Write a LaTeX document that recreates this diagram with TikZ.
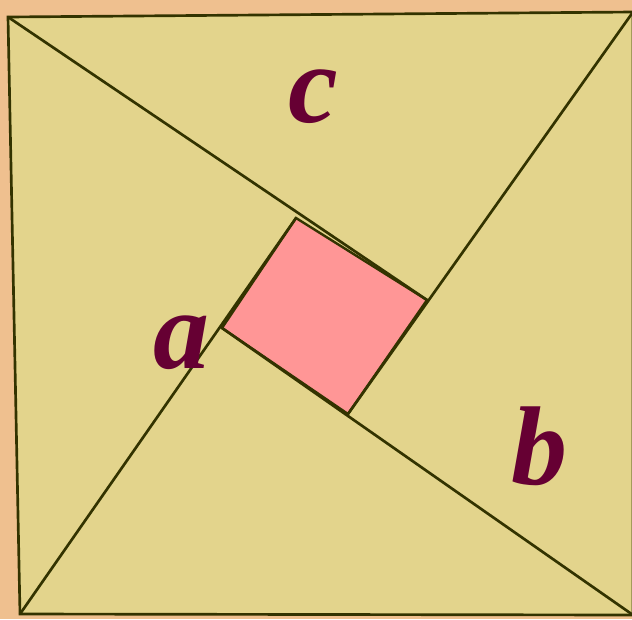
\documentclass[tikz,border=0pt]{standalone}
\usepackage{fontspec}
\setmainfont{Liberation Serif}
\usetikzlibrary{positioning}
\definecolor{backtan}{HTML}{EFC08F}
\definecolor{tilesand}{HTML}{E3D48C}
\definecolor{holepink}{HTML}{FF9696}
\definecolor{edgeolive}{HTML}{333300}
\definecolor{labelwine}{HTML}{660033}
\tikzset{
  tile/.style={fill=tilesand, draw=edgeolive, line width=2pt, line join=miter},
  hole/.style={fill=holepink, draw=edgeolive, line width=1.8pt},
  cut/.style={draw=edgeolive, line width=2pt},
  sidelabel/.style={font=\fontsize{84}{84}\selectfont\bfseries\itshape, text=labelwine, inner sep=0pt},
}
\begin{document}
\begin{tikzpicture}[x=0.75pt,y=-0.75pt]
  \fill[backtan] (0,0) rectangle (632,619);
  \useasboundingbox (0,0) rectangle (632,619);
  % corners of the big square and of the hole
  \coordinate (tl) at (8,17);
  \coordinate (tr) at (633,12);
  \coordinate (br) at (633,615);
  \coordinate (bl) at (20,614);
  \coordinate (p) at (296,218);
  \coordinate (q) at (427,300);
  \coordinate (r) at (348,414);
  \coordinate (s) at (222,328);
  % square, hole, cuts
  \path[tile] (tl) -- (tr) -- (br) -- (bl) -- cycle;
  \path[hole] (p) -- (q) -- (r) -- (s) -- cycle;
  \draw[cut] (tl) -- (q);
  \draw[cut] (tr) -- (r);
  \draw[cut] (br) -- (s);
  \draw[cut] (bl) -- (p);
  % side names
  \node[sidelabel] (c) at (313,97) {c};
  \node[sidelabel] (a) at (181,343) {a};
  \node[sidelabel] (b) at (539,446) {b};
\end{tikzpicture}
\end{document}
